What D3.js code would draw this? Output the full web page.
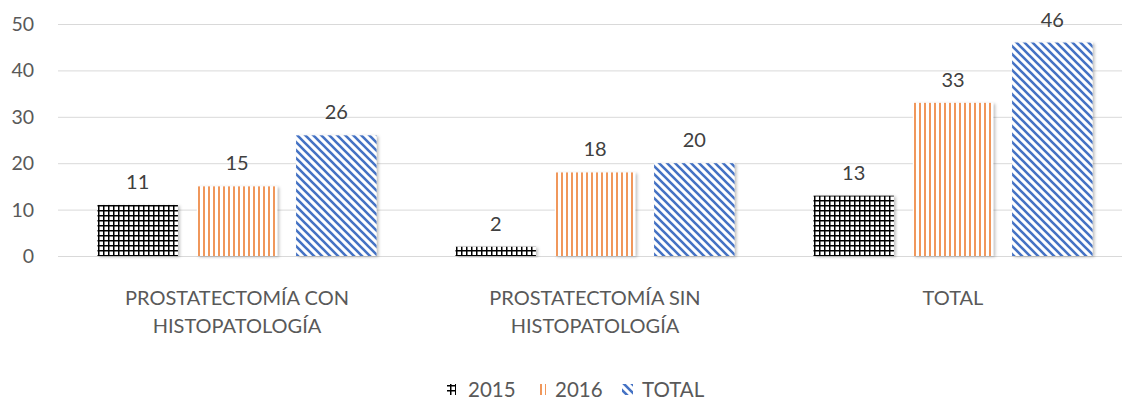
<!DOCTYPE html>
<html>
<head>
<meta charset="utf-8">
<script src="https://cdn.jsdelivr.net/npm/d3@7"></script>
<style>
	body { margin: 0; background: #fff; }
	text { font-family: Lato, 'Open Sans', sans-serif; }
</style>
</head>
<body>
<svg id="chart" width="1122" height="400"></svg>
<script>
const categories = [['PROSTATECTOMÍA CON', 'HISTOPATOLOGÍA'], ['PROSTATECTOMÍA SIN', 'HISTOPATOLOGÍA'], ['TOTAL']];
const seriesNames = ['2015', '2016', 'TOTAL'];
const values2015 = [11, 2, 13];
const values2016 = [15, 18, 33];
const valuesTotal = [26, 20, 46];
const yTicks = [0, 10, 20, 30, 40, 50];

const svg = d3.select('#chart');
const chartWidth = 1122;
const plotLeft = 58;
const plotBottom = 256;
const plotTop = 24;

const series = [values2015, values2016, valuesTotal];
const keys = categories.map((c) => c.join(' '));

const defs = svg.append('defs');

// patterns like the Excel fills
const grid = defs.append('pattern').attr('id', 'p0')
	.attr('patternUnits', 'userSpaceOnUse')
	.attr('width', 5).attr('height', 5);
grid.append('rect').attr('width', 5).attr('height', 5).attr('fill', '#fff');
grid.append('path').attr('d', 'M0.75,0V5M0,0.75H5')
	.attr('stroke', '#000').attr('stroke-width', 1.5);

const vert = defs.append('pattern').attr('id', 'p1')
	.attr('patternUnits', 'userSpaceOnUse')
	.attr('width', 5).attr('height', 5);
vert.append('rect').attr('width', 5).attr('height', 5).attr('fill', '#fff');
vert.append('path').attr('d', 'M1,0V5')
	.attr('stroke', '#ED7D31').attr('stroke-width', 1.6);

const diag = defs.append('pattern').attr('id', 'p2')
	.attr('patternUnits', 'userSpaceOnUse')
	.attr('width', 8).attr('height', 8);
diag.append('rect').attr('width', 8).attr('height', 8).attr('fill', '#fff');
diag.append('path').attr('d', 'M-2,-2L10,10M-2,6L2,10M6,-2L10,2')
	.attr('stroke', '#4472C4').attr('stroke-width', 2.6);

const shadow = defs.append('filter').attr('id', 'sh')
	.attr('x', '-10%').attr('y', '-10%')
	.attr('width', '130%').attr('height', '130%');
shadow.append('feDropShadow').attr('dx', 2).attr('dy', 1)
	.attr('stdDeviation', 1.5).attr('flood-color', '#000')
	.attr('flood-opacity', 0.25);

const yScale = d3.scaleLinear().domain([0, 50]).range([plotBottom, plotTop]);
const x0 = d3.scaleBand().domain(keys).range([plotLeft, plotLeft + 3 * 358]);
const x1 = d3.scaleBand().domain(seriesNames).range([39.5, 318.5]).paddingInner(0.19);

// gridlines
svg.append('g').selectAll('line').data(yTicks)
	.enter()
	.append('line')
	.attr('x1', plotLeft).attr('x2', chartWidth)
	.attr('y1', (d) => yScale(d) + 0.5).attr('y2', (d) => yScale(d) + 0.5)
	.attr('stroke', '#d9d9d9').attr('stroke-width', 1);

svg.append('g').selectAll('text').data(yTicks)
	.enter()
	.append('text')
	.attr('x', 34).attr('y', (d) => yScale(d) + 7)
	.attr('text-anchor', 'end')
	.attr('font-size', 19.5).attr('fill', '#595959')
	.text((d) => d);

const groups = svg.append('g').selectAll('g').data(keys)
	.enter()
	.append('g')
	.attr('transform', (d) => `translate(${ x0(d) },0)`);

groups.selectAll('rect').data((d, i) => series.map((s, j) => ({ name: seriesNames[j], value: s[i], j })))
	.enter()
	.append('rect')
	.attr('x', (d) => x1(d.name))
	.attr('width', x1.bandwidth())
	.attr('y', (d) => yScale(d.value))
	.attr('height', (d) => plotBottom - yScale(d.value))
	.attr('fill', (d) => `url(#p${ d.j })`)
	.attr('filter', 'url(#sh)');

groups.selectAll('text.lbl').data((d, i) => series.map((s, j) => ({ name: seriesNames[j], value: s[i] })))
	.enter()
	.append('text')
	.attr('class', 'lbl')
	.attr('x', (d) => x1(d.name) + x1.bandwidth() / 2)
	.attr('y', (d) => yScale(d.value) - 16)
	.attr('text-anchor', 'middle')
	.attr('font-size', 20).attr('fill', '#404040')
	.text((d) => d.value);

// category labels
groups.each(function (d, i) {
	const t = d3.select(this).append('text')
		.attr('text-anchor', 'middle')
		.attr('font-size', 20).attr('fill', '#595959');
	categories[i].forEach((line, k) => {
		t.append('tspan').attr('x', x0.bandwidth() / 2)
			.attr('y', 305 + k * 28)
			.text(line);
	});
});

// legend
const legendItems = [
	{ name: '2015', sx: 447, tx: 468 },
	{ name: '2016', sx: 537, tx: 555 },
	{ name: 'TOTAL', sx: 622, tx: 642 }
];
const lg = svg.append('g');
lg.selectAll('rect').data(legendItems)
	.enter()
	.append('rect')
	.attr('x', (d) => d.sx).attr('y', 384)
	.attr('width', (d, i) => (i === 2 ? 11 : 9)).attr('height', 11)
	.attr('fill', (d, i) => `url(#p${ i })`);
lg.selectAll('text').data(legendItems)
	.enter()
	.append('text')
	.attr('x', (d) => d.tx).attr('y', 397)
	.attr('font-size', 20.5).attr('fill', '#595959')
	.text((d) => d.name);
</script>
</body>
</html>
